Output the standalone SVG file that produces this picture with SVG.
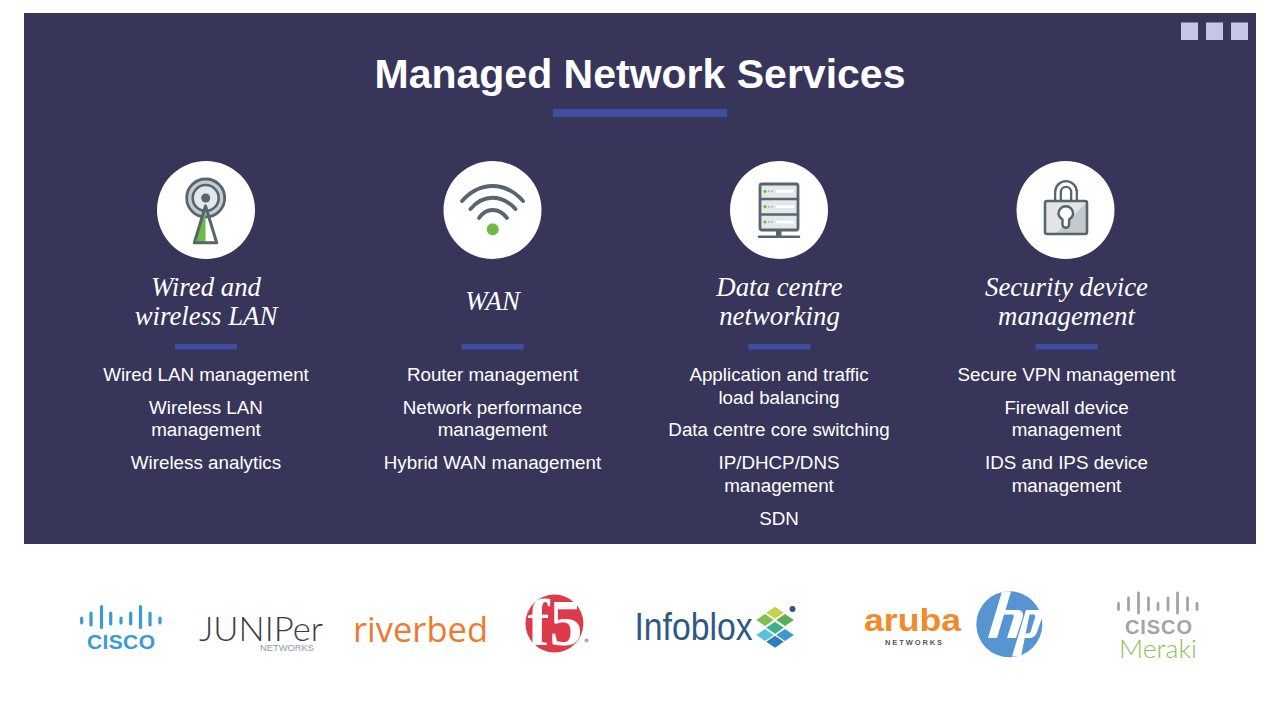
<svg xmlns="http://www.w3.org/2000/svg" width="1280" height="720" viewBox="0 0 1280 720">
<style>
.b{font-family:"Liberation Sans",Arial,sans-serif;font-size:18.8px;fill:#fff;text-anchor:middle}
.h{font-family:"Liberation Serif","Times New Roman",serif;font-style:italic;font-size:26.8px;fill:#fff;text-anchor:middle}
.bar{fill:#3f4e9e}
.ic{fill:none;stroke:#57656f;stroke-width:2.6;stroke-linejoin:round;stroke-linecap:round}
.wf{fill:none;stroke:#57656f;stroke-width:3.8;stroke-linecap:round}
.sq{fill:#c5c5e5}
.l{font-family:"Liberation Sans",Arial,sans-serif}
.t{font-family:Lato,"Liberation Sans",sans-serif;font-weight:300}
</style>
<rect width="1280" height="720" fill="#fff"/>
<g id="panel">
<rect x="24" y="13" width="1232" height="531" fill="#38355a"/>
<rect class="sq" x="1181" y="22.500" width="17" height="17.500"/>
<rect class="sq" x="1206" y="22.500" width="17" height="17.500"/>
<rect class="sq" x="1231" y="22.500" width="17" height="17.500"/>
</g>
<g id="title">
<text x="640" y="88" font-family="Liberation Sans, Arial, sans-serif" font-weight="700" font-size="41" fill="#fff" text-anchor="middle">Managed Network Services</text>
<rect class="bar" x="553" y="109" width="174" height="8"/>
</g>
<g id="node-lan">
<circle cx="206" cy="210" r="49" fill="#fff"/>
<circle cx="205.700" cy="198" r="19" fill="#c6ccd0" stroke="#57656f" stroke-width="2.800"/>
<circle cx="205.700" cy="198" r="13" fill="#e4e8ea" stroke="#57656f" stroke-width="2.600"/>
<circle cx="205.700" cy="198" r="4.500" fill="#57656f"/>
<path d="M205.500 206 L194.300 242.700 H205.500Z" fill="#6dbb45"/>
<path d="M205.500 206 L194.300 242.700 H216.700Z" fill="none" stroke="#57656f" stroke-width="3" stroke-linejoin="round"/>
</g>
<g id="node-wan">
<circle cx="492.500" cy="210" r="49" fill="#fff"/>
<path class="wf" d="M462 201 C480 181 505 181 523 201"/>
<path class="wf" d="M470.500 209 C483 194 502 194 515.500 209"/>
<path class="wf" d="M479 218 C486 207.300 499 207.300 507 218"/>
<circle cx="492.700" cy="229.300" r="6" fill="#6dbb45"/>
</g>
<g id="node-dc">
<circle cx="779" cy="210" r="49" fill="#fff"/>
<rect x="760" y="184" width="38" height="46" rx="2" fill="#e4e8ea" stroke="#57656f" stroke-width="2.800"/>
<path class="ic" d="M760 199H798M760 214.500H798M759 236.700H799"/>
<path d="M776 230h5.500v7h-5.500z" fill="#57656f"/>
<g fill="#6dbb45"><circle cx="765" cy="191.300" r="1.600"/><circle cx="765" cy="206.700" r="1.600"/><circle cx="765" cy="222" r="1.600"/></g>
<g fill="#a9b2b8"><circle cx="769" cy="191.300" r="1"/><circle cx="772" cy="191.300" r="1"/><circle cx="769" cy="206.700" r="1"/><circle cx="772" cy="206.700" r="1"/><circle cx="769" cy="222" r="1"/><circle cx="772" cy="222" r="1"/></g>
<g fill="#fff"><rect x="776" y="190" width="18" height="2.500"/><rect x="776" y="205.500" width="18" height="2.500"/><rect x="776" y="220.800" width="18" height="2.500"/></g>
</g>
<g id="node-sec">
<circle cx="1065.500" cy="210" r="49" fill="#fff"/>
<path d="M1058 201V192a8 8 0 0 1 16 0V201" fill="none" stroke="#57656f" stroke-width="8"/>
<path d="M1058 201V192a8 8 0 0 1 16 0V201" fill="none" stroke="#fff" stroke-width="3.400"/>
<rect x="1045" y="201" width="42" height="33" rx="2" fill="#e2e5e7"/>
<path d="M1056 233.500 L1086 203 V233.500Z" fill="#c3c9cc"/>
<rect x="1045" y="201" width="42" height="33" rx="2" fill="none" stroke="#57656f" stroke-width="2.600"/>
<path d="M1062.500 219.500c-3-2-4-4-4-6a7.300 7.300 0 0 1 14.600 0c0 2-1 4-4 6v5a3.300 3.300 0 0 1-6.600 0z" fill="#fff" stroke="#57656f" stroke-width="2.400"/>
</g>
<g id="col1">
<text class="h" x="206" y="296">Wired and</text>
<text class="h" x="206" y="325">wireless LAN</text>
<rect class="bar" x="175" y="344" width="62" height="5.500"/>
<text class="b" x="206" y="381">Wired LAN management</text>
<text class="b" x="206" y="414">Wireless LAN</text>
<text class="b" x="206" y="436">management</text>
<text class="b" x="206" y="469">Wireless analytics</text>
</g>
<g id="col2">
<text class="h" x="492.500" y="310">WAN</text>
<rect class="bar" x="461.500" y="344" width="62" height="5.500"/>
<text class="b" x="492.500" y="381">Router management</text>
<text class="b" x="492.500" y="414">Network performance</text>
<text class="b" x="492.500" y="436">management</text>
<text class="b" x="492.500" y="469">Hybrid WAN management</text>
</g>
<g id="col3">
<text class="h" x="779.500" y="296">Data centre</text>
<text class="h" x="779.500" y="325">networking</text>
<rect class="bar" x="748.500" y="344" width="62" height="5.500"/>
<text class="b" x="779" y="381">Application and traffic</text>
<text class="b" x="779" y="404">load balancing</text>
<text class="b" x="779" y="436">Data centre core switching</text>
<text class="b" x="779" y="469">IP/DHCP/DNS</text>
<text class="b" x="779" y="492">management</text>
<text class="b" x="779" y="525">SDN</text>
</g>
<g id="col4">
<text class="h" x="1066.500" y="296">Security device</text>
<text class="h" x="1066.500" y="325">management</text>
<rect class="bar" x="1035.500" y="344" width="62" height="5.500"/>
<text class="b" x="1066.500" y="381">Secure VPN management</text>
<text class="b" x="1066.500" y="414">Firewall device</text>
<text class="b" x="1066.500" y="436">management</text>
<text class="b" x="1066.500" y="469">IDS and IPS device</text>
<text class="b" x="1066.500" y="492">management</text>
</g>
<g id="logo-cisco">
<path d="M81.700 618v5M91 613v12M101.500 606.500v21M110.700 613v11M121 618v5M130.700 613v11M140.500 606.500v21M150 613v12M160 618v5" fill="none" stroke="#3a9bd2" stroke-width="3.200" stroke-linecap="round"/>
<text class="l" x="87" y="649" font-size="21" font-weight="700" fill="#3a9bd2" textLength="68" lengthAdjust="spacing">CISCO</text>
</g>
<g id="logo-juniper">
<text class="t" x="199" y="641" font-size="34" fill="#3b3b3d" textLength="124" lengthAdjust="spacingAndGlyphs">JUNIPer</text>
<text class="l" x="260" y="651" font-size="9.500" fill="#8e9bb0" textLength="54" lengthAdjust="spacingAndGlyphs">NETWORKS</text>
</g>
<g id="logo-riverbed">
<text x="353" y="641.500" font-family="Open Sans, Liberation Sans, sans-serif" font-size="35" fill="#ee7a30" textLength="135" lengthAdjust="spacingAndGlyphs">riverbed</text>
</g>
<g id="logo-f5">
<circle cx="554.400" cy="623.500" r="29" fill="#dd3a4c"/>
<text x="555" y="645" font-family="Liberation Serif, serif" font-weight="700" font-size="66" fill="#fff" text-anchor="middle">f5</text>
<circle cx="586.500" cy="640.500" r="2" fill="#a9a9a9"/>
</g>
<g id="logo-infoblox">
<text class="l" x="634.500" y="640" font-size="38" fill="#2d5a85" textLength="118" lengthAdjust="spacingAndGlyphs">Infoblox</text>
<path d="M775 606.700l8.800 6-8.800 6-8.800-6z" fill="#c5d34b"/>
<path d="M765 614l8.800 6-8.800 6-8.800-6z" fill="#7fbe4f"/>
<path d="M785 614l8.800 6-8.800 6-8.800-6z" fill="#5aae54"/>
<path d="M775 621.700l8.800 6-8.800 6-8.800-6z" fill="#3eae8d"/>
<path d="M765 629l8.800 6-8.800 6-8.800-6z" fill="#59c2d6"/>
<path d="M785 629l8.800 6-8.800 6-8.800-6z" fill="#3f97ce"/>
<path d="M775 635.700l8.800 6-8.800 6-8.800-6z" fill="#2f7dbd"/>
<circle cx="792.500" cy="609" r="3" fill="#2d5a85"/>
</g>
<g id="logo-aruba">
<text class="l" x="864" y="630.500" font-size="31" font-weight="700" fill="#f08a2b" textLength="97" lengthAdjust="spacingAndGlyphs">aruba</text>
<text class="l" x="885" y="644.500" font-size="7.500" font-weight="700" fill="#55565a" textLength="57" lengthAdjust="spacing">NETWORKS</text>
</g>
<g id="logo-hp">
<rect x="975" y="588" width="71" height="74" fill="#fdfdfd"/>
<circle cx="1009.300" cy="624.300" r="33" fill="#5795d0"/>
<path d="M1002 591.500h9L1005.500 610H1017c5 0 7 3 5.500 8L1016 638h-9l6.500-20.500c.6-2 0-3-2-3h-7.500L997 638h-9Z" fill="#fff"/>
<path d="M1026 610H1037c5 0 6.500 3 5 8L1037 632c-1.500 4-4 6-8 6h-7l1.500-4.500h4c2 0 3-1 3.500-3l4-13c.6-2 0-3-2-3h-3.500L1021 656.500h-9Z" fill="#fff"/>
</g>
<g id="logo-meraki">
<path d="M1118.500 603.500v6M1128.500 598v12M1138.500 593v20M1148.500 598v12M1158 603.500v6M1168 598v12M1177.500 593v20M1187.500 598v12M1197 603.500v6" fill="none" stroke="#a2a4a6" stroke-width="2.800" stroke-linecap="round"/>
<text class="l" x="1125" y="633.500" font-size="20" font-weight="700" fill="#a2a4a6" textLength="67" lengthAdjust="spacing">CISCO</text>
<text class="t" x="1119" y="657.500" font-size="25" fill="#8cc257" textLength="78" lengthAdjust="spacingAndGlyphs">Meraki</text>
</g>
</svg>
